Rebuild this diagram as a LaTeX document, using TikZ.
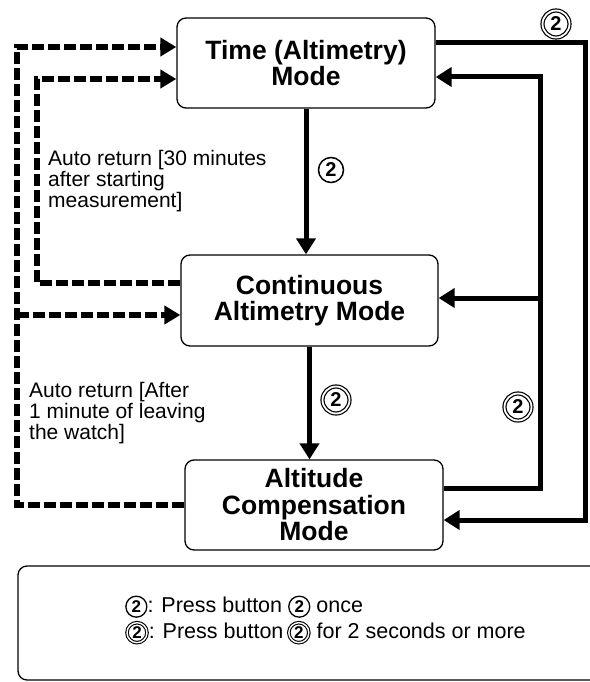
\documentclass[tikz,border=0pt]{standalone}
\usepackage{fontspec}
\setmainfont{Liberation Sans}
\usetikzlibrary{arrows.meta}

\tikzset{
  modebox/.style={draw, line width=1.3pt, rounded corners=9pt, minimum width=258pt,
    minimum height=90pt, align=center, inner sep=0pt,
    font=\fontsize{26.5}{26.5}\selectfont\bfseries},
  pressline/.style={line width=5pt, -{Triangle[length=16pt,width=19pt]}},
  autoline/.style={line width=5.5pt, dash pattern=on 12pt off 4pt,
    -{Triangle[length=16pt,width=18pt]}},
  btn/.style={circle, draw, line width=1.5pt, inner sep=0pt, minimum size=25pt,
    font=\fontsize{20}{20}\selectfont\bfseries},
  btnlong/.style={btn, double, double distance=1.8pt, line width=1.2pt, minimum size=27pt},
  note/.style={align=left, anchor=west, inner sep=0pt, font=\fontsize{21}{19}\selectfont},
}
\newcommand{\keyonce}{\tikz[baseline=(k.base)]\node[btn, minimum size=21pt, line width=1.3pt,
  font=\fontsize{17}{17}\selectfont\bfseries] (k) {2};}
\newcommand{\keylong}{\tikz[baseline=(k.base)]\node[btnlong, minimum size=20pt, line width=1.1pt,
  double distance=1.4pt, font=\fontsize{17}{17}\selectfont\bfseries] (k) {2};}

\begin{document}
\begin{tikzpicture}[x=1pt, y=-1pt]
  \fill[white] (0,0) rectangle (589,682);
  \useasboundingbox (0,0) rectangle (589,682);

  % Modes
  \node[modebox] (time) at (306,63) {Time (Altimetry)\\Mode};
  \node[modebox, minimum width=257pt, minimum height=91pt] (cont) at (309.5,300.5) {Continuous\\Altimetry Mode};
  \node[modebox] (alt) at (314,505) {Altitude\\Compensation\\Mode};

  % Corners of the loops
  \coordinate (outR) at (585,520);
  \coordinate (inR) at (540,77);
  \coordinate (inRmid) at (540,298);
  \coordinate (outL) at (17,47);
  \coordinate (outLmid) at (17,315);
  \coordinate (inL) at (37,79);

  % Button presses
  \draw[pressline] (time.south) -- (time.south |- cont.north);
  \draw[pressline] (cont.south) -- (cont.south |- alt.north);
  \draw[pressline] ([yshift=20pt]time.east) -| (outR) -- (outR -| alt.east);
  \draw[pressline] ([yshift=17pt]alt.east) -| (inR) -- (inR -| time.east);
  \draw[pressline] (inRmid) -- (inRmid -| cont.east);

  % Auto returns
  \draw[autoline] (alt.west) -| (outL) -- (outL -| time.west);
  \draw[autoline] (outLmid) -- (outLmid -| cont.west);
  \draw[autoline] ([yshift=17.5pt]cont.west) -| (inL) -- (inL -| time.west);

  % Button labels
  \node[btn] (k1) at (331,170) {2};
  \node[btnlong] (k2) at (336,400) {2};
  \node[btnlong] (k3) at (518,407) {2};
  \node[btnlong] (k4) at (556,24) {2};

  \node[note] (ret1) at (48,181) {Auto return [30 minutes\\after starting\\measurement]};
  \node[note] (ret2) at (29,413) {Auto return [After\\1 minute of leaving\\the watch]};

  % Legend
  \draw[line width=1.3pt, rounded corners=9pt] (18,566) rectangle (640,680);
  \node[note, font=\fontsize{21.5}{26}\selectfont] (keys) at (125,620)
    {\keyonce: Press button \keyonce\ once\\\keylong: Press button\,\keylong\ for 2 seconds or more};
\end{tikzpicture}
\end{document}
